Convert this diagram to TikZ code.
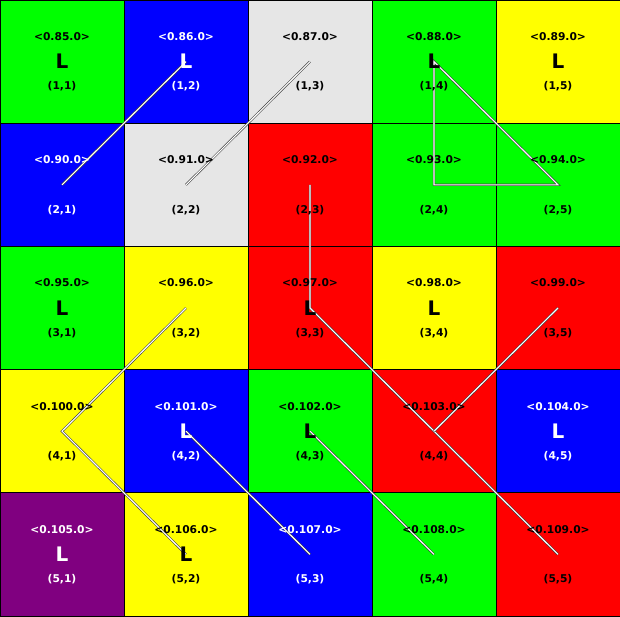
\documentclass[tikz,border=0pt]{standalone}
\usepackage{fontspec}
\setmainfont{DejaVu Sans}
\definecolor{cgreen}{HTML}{00FF00}
\definecolor{cblue}{HTML}{0000FF}
\definecolor{cgrey}{HTML}{E6E6E6}
\definecolor{cred}{HTML}{FF0000}
\definecolor{cyellow}{HTML}{FFFF00}
\definecolor{cpurple}{HTML}{800080}
\begin{document}
\begin{tikzpicture}[x=1pt,y=-1pt,
  cell/.style={draw=black,line width=0.9pt,minimum width=124pt,minimum height=123.2pt,inner sep=0pt,outer sep=0pt},
  small/.style={font=\fontsize{10.7}{12}\bfseries\selectfont,inner sep=0pt},
  big/.style={font=\fontsize{20}{24}\bfseries\selectfont,inner sep=0pt},
  link/.style={draw=black!75,line width=0.6pt,double=white,double distance=1.1pt}]
\useasboundingbox (0,0) rectangle (620,616);
\foreach \r/\c/\fc in {1/1/cgreen,1/2/cblue,1/3/cgrey,1/4/cgreen,1/5/cyellow,
  2/1/cblue,2/2/cgrey,2/3/cred,2/4/cgreen,2/5/cgreen,
  3/1/cgreen,3/2/cyellow,3/3/cred,3/4/cyellow,3/5/cred,
  4/1/cyellow,4/2/cblue,4/3/cgreen,4/4/cred,4/5/cblue,
  5/1/cpurple,5/2/cyellow,5/3/cblue,5/4/cgreen,5/5/cred}{
  \node[cell,fill=\fc] (c\r\c) at ({124*(\c-1)+62},{123.2*(\r-1)+61.6}) {};
}
\draw[link] (c21.center) -- (c12.center);
\draw[link] (c22.center) -- (c13.center);
\draw[link] (c14.center) -- (c24.center) -- (c25.center) -- cycle;
\draw[link] (c23.center) -- (c33.center) -- (c55.center);
\draw[link] (c32.center) -- (c41.center) -- (c52.center);
\draw[link] (c35.center) -- (c44.center);
\draw[link] (c42.center) -- (c53.center);
\draw[link] (c43.center) -- (c54.center);
\foreach \r/\c/\tc/\hl in {1/1/black/1,1/2/white/1,1/3/black/0,1/4/black/1,1/5/black/1,
  2/1/white/0,2/2/black/0,2/3/black/0,2/4/black/0,2/5/black/0,
  3/1/black/1,3/2/black/0,3/3/black/1,3/4/black/1,3/5/black/0,
  4/1/black/0,4/2/white/1,4/3/black/1,4/4/black/0,4/5/white/1,
  5/1/white/1,5/2/black/1,5/3/white/0,5/4/black/0,5/5/black/0}{
  \pgfmathtruncatemacro\n{85+5*(\r-1)+\c-1}
  \node[small,text=\tc] (v\r\c) at ([yshift=25pt]c\r\c.center) {<0.\n.0>};
  \node[small,text=\tc] (k\r\c) at ([yshift=-25pt]c\r\c.center) {(\r,\c)};
  \ifnum\hl=1
    \node[big,text=\tc] (L\r\c) at (c\r\c.center) {L};
  \fi
}
\end{tikzpicture}
\end{document}
